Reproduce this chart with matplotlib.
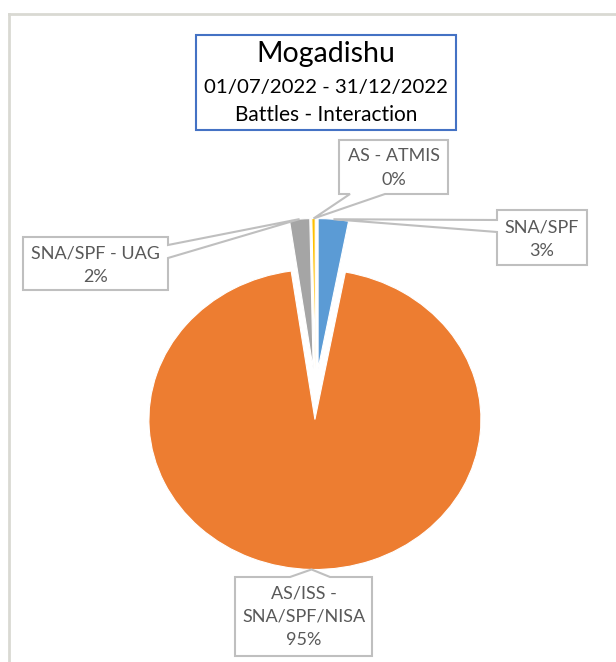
import numpy as np
import matplotlib
matplotlib.use('Agg')
import matplotlib.pyplot as plt
from matplotlib.patches import Polygon, Rectangle

plt.rcParams['font.family'] = ['Lato', 'DejaVu Sans']

# data (event counts read as shares of the pie)
names = ['SNA/SPF', 'AS/ISS -\nSNA/SPF/NISA', 'SNA/SPF - UAG', 'AS - ATMIS']
counts = [9, 290, 6, 1]
colors = ['#5B9BD5', '#ED7D31', '#A5A5A5', '#FFC000']
title_lines = ['Mogadishu', '01/07/2022 - 31/12/2022', 'Battles - Interaction']

W, H = 616, 662
fig = plt.figure(figsize=(W/100, H/100), dpi=100)

# pie axes, stretched a bit so the pie is slightly squashed like the original
cx, cy, rx, ry = 315.5, 394, 166, 150
ax = fig.add_axes([0, 0, 1, 1])
wedges, _ = ax.pie(counts, colors=colors, startangle=90, counterclock=False,
                   explode=[0.17]*len(counts),
                   wedgeprops=dict(edgecolor='white', linewidth=0.8))
ax.set_aspect('auto')
ax.set_xlim(-cx/rx, (W - cx)/rx)
ax.set_ylim((cy - H)/ry, cy/ry)
ax.axis('off')

# overlay in pixel coordinates for the boxes
ov = fig.add_axes([0, 0, 1, 1], zorder=5)
ov.set_xlim(0, W)
ov.set_ylim(H, 0)
ov.axis('off')
ov.patch.set_alpha(0)

# chart border (left and top)
ov.plot([9, 9], [14, H], color='#D9D9D3', lw=2)
ov.plot([9, W], [14, 14], color='#D9D9D3', lw=2)

# title box
ov.add_patch(Rectangle((196, 35), 260, 95, fc='white', ec='#4472C4', lw=1.5))
ov.text(326, 54, title_lines[0], fontsize=20.5, ha='center', va='center', color='black')
ov.text(326, 88, title_lines[1], fontsize=14.7, ha='center', va='center', color='black')
ov.text(326, 115, title_lines[2], fontsize=15, ha='center', va='center', color='black')


def apex_of(w):
    # outer point of the wedge on its bisector, in pixel coords
    t = np.deg2rad((w.theta1 + w.theta2) / 2)
    px = ax.transData.transform((w.center[0] + w.r*np.cos(t), w.center[1] + w.r*np.sin(t)))
    return ov.transData.inverted().transform(px)


def callout(box, side, b0, b1, apex):
    x0, y0, x1, y1 = box
    if side == 'left':
        pts = [(x0, y0), (x1, y0), (x1, y1), (x0, y1), (x0, b1), apex, (x0, b0)]
    elif side == 'right':
        pts = [(x0, y0), (x1, y0), (x1, b0), apex, (x1, b1), (x1, y1), (x0, y1)]
    elif side == 'bottom':
        pts = [(x0, y0), (x1, y0), (x1, y1), (b1, y1), apex, (b0, y1), (x0, y1)]
    else:
        pts = [(x0, y0), (b0, y0), apex, (b1, y0), (x1, y0), (x1, y1), (x0, y1)]
    ov.add_patch(Polygon(pts, closed=True, fc='white', ec='#BFBFBF', lw=1.5))


pcts = [c / sum(counts) * 100 for c in counts]
labels = [f'{n}\n{p:.0f}%' for n, p in zip(names, pcts)]

# box geometry: (x0, y0, x1, y1), side of the pointer, pointer base, text centre
layout = [
    ((497, 210, 587, 265), 'left', 220, 232, (542, 239)),
    ((235, 577, 372, 656), 'top', 290, 330, (303.5, 617)),
    ((23, 237, 168, 290), 'right', 245, 258, (95.5, 265)),
    ((339, 140, 448, 194), 'bottom', 350, 385, (393.5, 168)),
]
for w, lab, (box, side, b0, b1, tc) in zip(wedges, labels, layout):
    callout(box, side, b0, b1, apex_of(w))
    ov.text(tc[0], tc[1], lab, fontsize=13, ha='center', va='center',
            color='#595959', linespacing=1.55)

fig.savefig('out.png', dpi=100, facecolor='white')
